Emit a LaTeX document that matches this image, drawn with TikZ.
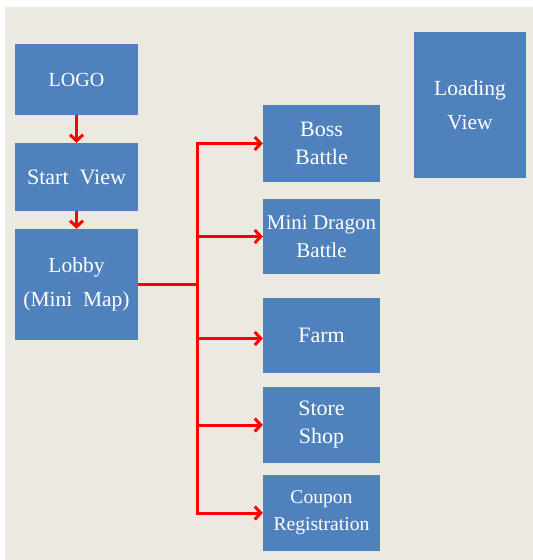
\documentclass[tikz,border=0pt]{standalone}
\usepackage{fontspec}
\setmainfont{Liberation Serif}
\usetikzlibrary{arrows.meta}

\definecolor{paper}{RGB}{236,234,224}
\definecolor{boxblue}{RGB}{79,129,189}

\tikzset{
  screen/.style={fill=boxblue, text=white, align=center, inner sep=0pt,
    font=\fontsize{22}{28}\selectfont},
  bigscreen/.style={screen, font=\fontsize{21.5}{34}\selectfont},
  smallscreen/.style={screen, font=\fontsize{19.6}{27}\selectfont},
  flow/.style={red, line width=3pt, -{Straight Barb[length=6pt,width=13pt]}},
  trunk/.style={red, line width=3pt}
}

\begin{document}
\begin{tikzpicture}[x=1pt,y=-1pt]
  \useasboundingbox (0,0) rectangle (533,560);
  \fill[paper] (5,7) rectangle (533,560);
  % left column
  \node[smallscreen, font=\fontsize{20}{27}\selectfont, minimum width=123pt, minimum height=71pt] (logo) at (76.5,79.5) {LOGO};
  \node[screen, minimum width=123pt, minimum height=68pt] (start) at (76.5,177) {Start~ View};
  \node[bigscreen, minimum width=123pt, minimum height=111pt] (lobby) at (76.5,284.5) {Lobby\\(Mini~ Map)};
  % right column
  \node[bigscreen, minimum width=112pt, minimum height=146pt] (loading) at (470,105) {Loading\\View};
  % sub views
  \node[screen, minimum width=117pt, minimum height=77pt] (boss) at (321.5,143.5) {Boss\\Battle};
  \node[screen, font=\fontsize{21}{28}\selectfont, minimum width=117pt, minimum height=75pt] (mini) at (321.5,236.5) {Mini Dragon\\Battle};
  \node[screen, minimum width=117pt, minimum height=75pt] (farm) at (321.5,335.5) {Farm};
  \node[screen, minimum width=117pt, minimum height=76pt] (store) at (321.5,425) {Store\\Shop};
  \node[smallscreen, minimum width=117pt, minimum height=76pt] (coupon) at (321.5,513) {Coupon\\Registration};
  \coordinate (split) at (197,284.5);
  \draw[flow] (logo) -- (start);
  \draw[flow] (start) -- (lobby);
  \draw[trunk] (lobby.east) -- (split);
  \draw[flow] (split) |- (boss.west);
  \draw[flow] (split) |- (mini.west);
  \draw[flow] (split) |- ([yshift=-3pt]farm.west);
  \draw[flow] (split) |- (store.west);
  \draw[flow] (split) |- (coupon.west);
\end{tikzpicture}
\end{document}
